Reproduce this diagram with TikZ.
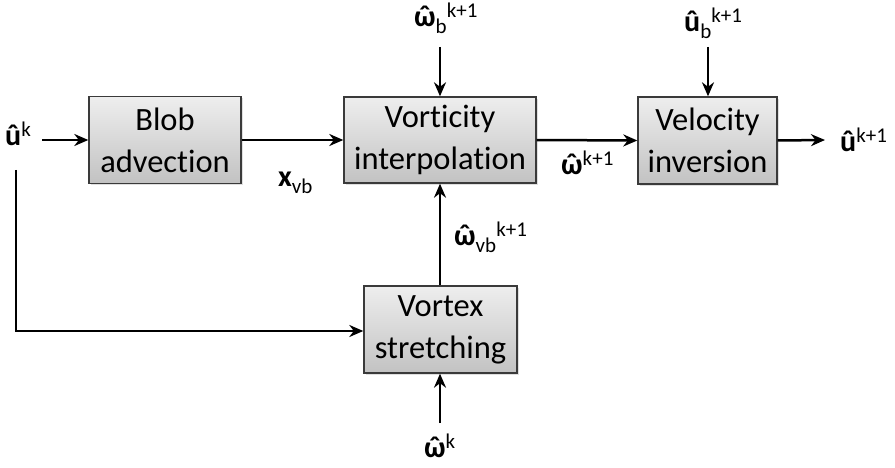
\documentclass[tikz,border=0pt]{standalone}
\usepackage{fontspec}
\setmainfont{Carlito}[Ligatures=NoCommon]
\usetikzlibrary{arrows.meta,shadows}
\definecolor{boxtop}{HTML}{EEEEEE}
\definecolor{boxbot}{HTML}{C2C2C2}
\definecolor{boxline}{HTML}{3A3A3A}
\newcommand{\bu}{\textbf{û}}
\newcommand{\bw}{\textbf{\ooalign{ω\cr\hidewidth ˆ\hidewidth\cr}}}
\newcommand{\supx}[1]{\raisebox{9pt}{\fontsize{21}{21}\selectfont #1}}
\newcommand{\subx}[1]{\raisebox{-7pt}{\fontsize{21}{21}\selectfont #1}}
\begin{document}
\begin{tikzpicture}[x=1pt,y=-1pt,
  blk/.style={draw=boxline, line width=1.4pt, top color=boxtop, bottom color=boxbot,
    drop shadow={shadow xshift=2pt, shadow yshift=-2pt, opacity=0.25},
    align=center, inner sep=0pt, font=\fontsize{32.5}{42}\selectfont},
  lbl/.style={inner sep=0pt, font=\fontsize{30}{30}\selectfont},
  arr/.style={line width=2.5pt, -{Stealth[length=14pt,width=12pt]}},
  ln/.style={line width=2.5pt}]
\useasboundingbox (0,0) rectangle (895,468);
% blocks
\node[blk, minimum width=152pt, minimum height=87pt] (blob) at (165,140) {Blob\\advection};
\node[blk, minimum width=192pt, minimum height=86pt] (interp) at (440,140) {Vorticity\\interpolation};
\node[blk, minimum width=139pt, minimum height=87pt] (vel) at (707.5,140.5) {Velocity\\inversion};
\node[blk, minimum width=153pt, minimum height=87pt] (str) at (440.5,329.5) {Vortex\\stretching};
% labels
\node[lbl, anchor=base west] (uk) at (5,146) {\bu\supx{k}};
\node[lbl, anchor=base west] (xvb) at (278,186) {\textbf{x}\subx{vb}};
\node[lbl, anchor=base west] (wb) at (414,27) {\bw\subx{b}\supx{k+1}};
\node[lbl, anchor=base west] (wk1) at (561,175) {\bw\supx{k+1}};
\node[lbl, anchor=base west] (ub) at (684,32) {\bu\subx{b}\supx{k+1}};
\node[lbl, anchor=base west] (uk1) at (840,152) {\bu\supx{k+1}};
\node[lbl, anchor=base west] (wvb) at (454,245) {\bw\subx{vb}\supx{k+1}};
\node[lbl, anchor=base west] (wk) at (424,457) {\bw\supx{k}};
% coordinates
\coordinate (c1) at (42,140);
\coordinate (c2) at (16,170);
\coordinate (c3) at (16,331);
\coordinate (c4) at (440,47);
\coordinate (c5) at (708,47);
\coordinate (c6) at (825,140);
\coordinate (c7) at (440,423);
% connectors
\draw[arr] (c1) -- (blob.west);
\draw[arr] (blob.east) -- (interp.west);
\draw[arr] (interp.east) -- (vel.west);
\draw[arr] (vel.east) -- (c6);
\draw[arr] (c4) -- (interp.north);
\draw[arr] (c5) -- (vel.north -| c5);
\draw[arr] (str.north -| interp.south) -- (interp.south);
\draw[arr] (c7) -- (str.south -| c7);
\draw[arr] (c2) -- (c3) -- (c3 -| str.west);
\end{tikzpicture}
\end{document}
